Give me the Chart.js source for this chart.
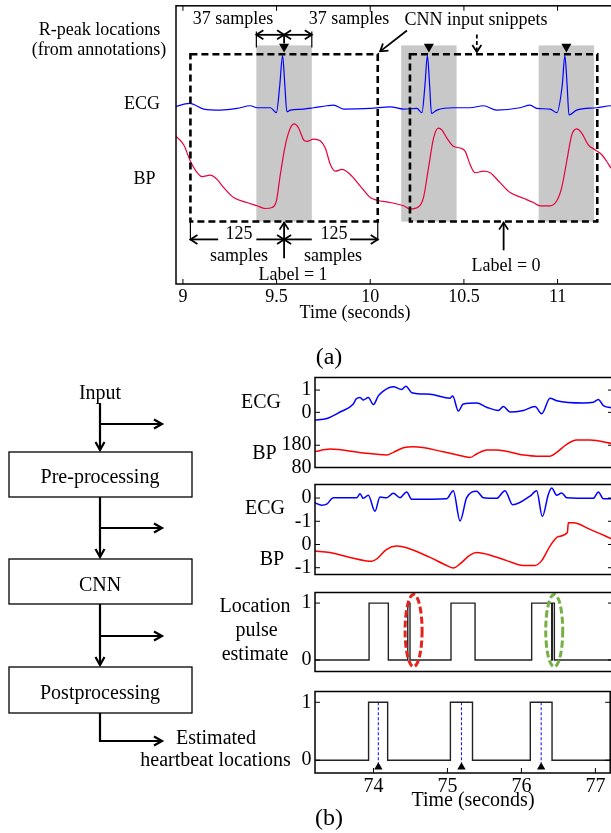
<!DOCTYPE html>
<html><head><meta charset="utf-8">
<script src="https://cdn.jsdelivr.net/npm/chart.js@4.4.0/dist/chart.umd.min.js"></script>
<style>
html,body{margin:0;padding:0;width:611px;height:833px;overflow:hidden;background:#fff;}
.c{position:absolute;}
svg text{font-family:'Liberation Serif','Times New Roman',serif;fill:#000;}
</style></head><body>
<canvas id="ca" class="c" style="left:0;top:0" width="640" height="330"></canvas>
<canvas id="cb1" class="c" style="left:230px;top:362px" width="385" height="121"></canvas>
<canvas id="cb2" class="c" style="left:230px;top:469px" width="385" height="121"></canvas>
<canvas id="cb3" class="c" style="left:230px;top:577px" width="385" height="110"></canvas>
<canvas id="cb4" class="c" style="left:230px;top:676px" width="385" height="121"></canvas>
<svg class="c" style="left:0;top:0;pointer-events:none" width="611" height="833">
 <g stroke="#000" fill="none" stroke-width="1.3">
  <rect x="9" y="452" width="183" height="45"/>
  <rect x="9" y="559" width="183" height="45"/>
  <rect x="9" y="667" width="183" height="46"/>
 </g>
 <g stroke="#000" fill="none" stroke-width="2.2" stroke-linejoin="miter">
  <line x1="100" y1="403" x2="100" y2="450"/>
  <polyline points="95.5,442 100,450 104.5,442"/>
  <line x1="100" y1="424" x2="162" y2="424"/>
  <polyline points="154,419.5 162,424 154,428.5"/>
  <line x1="100" y1="497" x2="100" y2="557"/>
  <polyline points="95.5,549 100,557 104.5,549"/>
  <line x1="100" y1="528" x2="162" y2="528"/>
  <polyline points="154,523.5 162,528 154,532.5"/>
  <line x1="100" y1="604" x2="100" y2="665"/>
  <polyline points="95.5,657 100,665 104.5,657"/>
  <line x1="100" y1="636" x2="162" y2="636"/>
  <polyline points="154,631.5 162,636 154,640.5"/>
  <polyline points="100,713 100,741 162,741"/>
  <polyline points="154,736.5 162,741 154,745.5"/>
 </g>
 <g font-size="18" text-anchor="middle" dominant-baseline="central">
  <text x="233" y="17.5">37 samples</text>
  <text x="349" y="17.5">37 samples</text>
  <text x="476" y="19">CNN input snippets</text>
  <text x="239" y="232.5">125</text>
  <text x="334" y="232.5">125</text>
  <text x="239" y="254.5">samples</text>
  <text x="333" y="254.5">samples</text>
  <text x="293" y="273.5">Label = 1</text>
  <text x="506" y="265">Label = 0</text>
  <text x="99.5" y="29">R-peak locations</text>
  <text x="99" y="49">(from annotations)</text>
  <text x="142" y="103">ECG</text>
  <text x="144.5" y="177.5">BP</text>
  <text x="355" y="311.5">Time (seconds)</text>
 </g>
 <g font-size="24" text-anchor="middle" dominant-baseline="central">
  <text x="329" y="356">(a)</text>
  <text x="329" y="817">(b)</text>
 </g>
 <g font-size="20" text-anchor="middle" dominant-baseline="central">
  <text x="100" y="392">Input</text>
  <text x="100" y="475.5">Pre-processing</text>
  <text x="100" y="583.5">CNN</text>
  <text x="100" y="692">Postprocessing</text>
  <text x="216" y="736.5">Estimated</text>
  <text x="215.5" y="758.5">heartbeat locations</text>
  <text x="261" y="401">ECG</text>
  <text x="264.5" y="452">BP</text>
  <text x="265" y="507">ECG</text>
  <text x="272" y="558">BP</text>
  <text x="255" y="604.5">Location</text>
  <text x="256.5" y="629">pulse</text>
  <text x="255" y="653">estimate</text>
  <text x="473" y="799">Time (seconds)</text>
 </g>
</svg>
<script>
// ---------------- Panel (a) data ----------------
const aEcgT = [8.95,9.036,9.111,9.2,9.289,9.36,9.396,9.467,9.499,9.517,9.532,9.544,9.555,9.573,9.644,9.698,9.769,9.804,9.858,10.0,10.107,10.178,10.249,10.276,10.292,10.305,10.317,10.327,10.356,10.444,10.533,10.604,10.676,10.8,10.853,10.889,10.96,10.996,11.025,11.039,11.051,11.061,11.102,11.209,11.285,11.36];
const aEcgV = [0.03,0.099,-0.006,-0.025,0.006,0.056,0.019,0.019,-0.074,0.44,0.994,0.44,-0.056,-0.025,-0.006,0.019,0.056,0.068,-0.006,0.006,0.037,-0.006,0.006,-0.074,0.44,0.994,0.44,-0.086,-0.025,0.019,0.019,0.056,-0.025,0.019,0.068,0.006,-0.006,-0.074,0.44,0.994,0.44,-0.117,-0.025,0.019,0.056,0.06];
const aBpT = [8.95,8.965,9.004,9.04,9.076,9.102,9.147,9.182,9.218,9.271,9.342,9.396,9.44,9.476,9.499,9.52,9.547,9.573,9.594,9.618,9.644,9.662,9.698,9.733,9.76,9.787,9.813,9.849,9.893,9.947,10.0,10.036,10.107,10.178,10.213,10.258,10.284,10.311,10.338,10.364,10.382,10.409,10.444,10.48,10.507,10.533,10.56,10.604,10.64,10.693,10.747,10.818,10.871,10.907,10.96,10.996,11.022,11.049,11.076,11.102,11.129,11.164,11.2,11.236,11.262,11.285,11.36];
const aBpV = [113,110.9,105.1,93.5,85.4,82.6,83.7,80.7,74.9,67.9,64.4,62.1,60.2,60.9,65.6,84.2,105.1,116.8,119.8,116.8,108.6,107.5,109.1,107.9,102.8,91.2,86.5,87.7,84.2,76.0,67.9,66.0,64.4,62.1,59.8,61.4,67.9,88.8,109.8,116.8,115.6,109.8,104.0,102.8,100.5,91.2,85.4,86.5,85.4,78.4,71.4,67.4,64.4,62.1,62.1,65.6,74.9,93.5,112.1,116.3,113.3,105.1,101.6,98.1,93.5,88.8,80];
const aTicks = [9, 9.5, 10, 10.5, 11];
const aTickLabels = ['9', '9.5', '10', '10.5', '11'];
const rPeaks = [9.54, 10.313, 11.047];          // R-peak annotations (s)
const fs = 250;                                   // sampling rate (Hz)
const halfR = 37;                                 // samples each side of R-peak
const halfSnippet = 125;                          // samples each side of snippet centre
const snippetCenters = [9.54, 10.712];            // CNN input snippets (label 1, label 0)

// ---------------- Panel (b) data ----------------
const bTicks = [74, 75, 76, 77];
const bTickLabels = ['74', '75', '76', '77'];
const b1EcgT = [73.2,73.37,73.545,73.723,73.76,73.813,73.857,73.924,73.991,74.058,74.125,74.259,74.37,74.428,74.505,74.75,75.018,75.054,75.129,75.196,75.375,75.509,75.665,75.732,75.821,75.999,76.156,76.245,76.357,76.446,76.803,76.937,77.004,77.071,77.2];
const b1EcgV = [-0.35,-0.275,0.014,0.377,0.594,0.667,0.551,0.667,0.348,0.739,0.957,1.145,1.029,1.174,0.884,0.812,0.638,0.739,0.058,0.377,0.42,0.232,0.087,0.261,0.014,0.087,0.261,-0.058,0.638,0.522,0.42,0.449,0.58,0.304,0.2];
const b1BpT = [73.2,73.411,73.857,74.17,74.259,74.393,74.527,74.928,75.196,75.285,75.375,75.509,75.643,75.999,76.178,76.357,76.446,76.58,76.714,76.892,77.2];
const b1BpV = [151,162.6,145.2,136.5,148.1,168.3,172.7,150.9,130.7,124.9,140.9,158.3,158.3,136.5,130.7,130.7,148.1,184.3,203,203,187];
const b2EcgT = [73.2,73.3,73.367,73.456,73.768,73.813,73.857,73.924,74.013,74.08,74.17,74.259,74.348,74.437,74.505,74.973,75.062,75.152,75.241,75.375,75.464,75.643,75.754,75.857,76.089,76.178,76.254,76.334,76.379,76.446,76.513,76.58,76.937,77.004,77.071,77.2];
const b2EcgV = [-0.194,-0.306,-0.264,0.014,0.014,0.18,-0.014,0.125,-0.57,0.042,0.014,0.208,0.014,0.264,-0.056,-0.028,0.319,-0.986,0.014,0.292,0.014,-0.014,0.319,-0.292,0.083,0.319,-0.792,0.153,0.431,0.125,0.222,0.014,-0.014,0.264,-0.028,-0.028];
const b2BpT = [73.2,73.411,73.679,73.969,74.036,74.17,74.304,74.437,74.75,74.973,75.062,75.152,75.285,75.375,75.509,75.777,75.999,76.156,76.245,76.357,76.468,76.589,76.602,76.669,76.892,77.2];
const b2BpV = [-0.278,-0.347,-0.556,-0.722,-0.625,-0.208,-0.069,-0.139,-0.556,-0.903,-1.014,-0.833,-0.458,-0.347,-0.417,-0.694,-0.903,-0.903,-0.694,-0.069,0.347,0.514,0.931,0.931,0.653,0.22];
const b3Pulses = [[73.934,74.192],[74.452,74.482],[75.031,75.353],[76.111,76.379],[76.387,76.415]];
const b4Pulses = [[73.934,74.192],[75.04,75.339],[76.12,76.414]];
const beatEstimates = [74.066, 75.19, 76.267];
const beatAnnotations = [74.066, 75.19, 76.267];
const circledFalse = 74.53;   // spurious narrow pulse (red)
const circledMerged = 76.413; // merged narrow pulse (green)

// ---------------- helpers ----------------
const FONT = "'Liberation Serif','Times New Roman',serif";
const zip = (t, v) => t.map((x, i) => ({x, y: v[i]}));
function pulsePoints(pulses, x0, x1) {
  const p = [{x: x0, y: 0}];
  pulses.forEach(([r, f]) => { p.push({x: r, y: 0}, {x: r, y: 1}, {x: f, y: 1}, {x: f, y: 0}); });
  p.push({x: x1, y: 0});
  return p;
}
function seg(ctx, x1, y1, x2, y2) { ctx.beginPath(); ctx.moveTo(x1, y1); ctx.lineTo(x2, y2); ctx.stroke(); }
function head(ctx, x1, y1, x2, y2, len, hw) {
  const a = Math.atan2(y2 - y1, x2 - x1);
  const bx = x2 - len * Math.cos(a), by = y2 - len * Math.sin(a);
  const nx = -Math.sin(a) * hw, ny = Math.cos(a) * hw;
  ctx.beginPath(); ctx.moveTo(bx + nx, by + ny); ctx.lineTo(x2, y2); ctx.lineTo(bx - nx, by - ny); ctx.stroke();
}
function arrow(ctx, x1, y1, x2, y2, both) {
  seg(ctx, x1, y1, x2, y2);
  head(ctx, x1, y1, x2, y2, 7, 4.5);
  if (both) head(ctx, x2, y2, x1, y1, 7, 4.5);
}
function framePlugin(cfg) {
  return {
    id: 'frame',
    afterDatasetsDraw(chart) {
      const {ctx, chartArea: {left, top, right, bottom}} = chart;
      const xs = chart.scales.x;
      ctx.save();
      ctx.strokeStyle = '#000'; ctx.lineWidth = 1.5; ctx.setLineDash([]);
      ctx.strokeRect(left, top, right - left, bottom - top);
      ctx.lineWidth = 1;
      (cfg.xTicks || []).forEach(v => {
        const px = xs.getPixelForValue(v);
        seg(ctx, px, bottom, px, bottom - 5);
        if (cfg.xTop) seg(ctx, px, top, px, top + 5);
      });
      (cfg.yTicks || []).forEach(([id, v]) => {
        const py = chart.scales[id].getPixelForValue(v);
        seg(ctx, left, py, left + 5, py); seg(ctx, right, py, right - 5, py);
      });
      ctx.fillStyle = '#000'; ctx.font = '20px ' + FONT; ctx.textAlign = 'right'; ctx.textBaseline = 'middle';
      (cfg.extraLabels || []).forEach(([id, v, s]) => {
        ctx.fillText(s, left - 3.5, chart.scales[id].getPixelForValue(v));
      });
      ctx.restore();
    }
  };
}
function tickSetter(vals) { return s => { s.ticks = vals.map(v => ({value: v})); }; }
function baseOpts(padding, scales) {
  return {
    responsive: false, animation: false, devicePixelRatio: 1,
    plugins: {legend: {display: false}, tooltip: {enabled: false}},
    elements: {point: {radius: 0}},
    layout: {padding},
    scales
  };
}
function lineDs(data, color, yAxisID, width, extra) {
  return Object.assign({data, borderColor: color, borderWidth: width, yAxisID, pointRadius: 0,
    fill: false, cubicInterpolationMode: 'monotone', tension: 0.4}, extra || {});
}

// ---------------- Panel (a) ----------------
const aX0 = 8.963, aX1 = 11.36;
const aAnnot = {
  id: 'aAnnot',
  beforeDatasetsDraw(chart) {
    const {ctx} = chart, x = chart.scales.x, y = chart.scales.yE;
    ctx.save(); ctx.fillStyle = '#c8c8c8';
    rPeaks.forEach(p => {
      const l = x.getPixelForValue(p - halfR / fs), r = x.getPixelForValue(p + halfR / fs);
      const t = y.getPixelForValue(1.185), b = y.getPixelForValue(-2.11);
      ctx.fillRect(l, t, r - l, b - t);
    });
    ctx.restore();
  },
  afterDatasetsDraw(chart) {
    const {ctx} = chart, x = chart.scales.x, y = chart.scales.yE;
    const X = v => x.getPixelForValue(v), Y = v => y.getPixelForValue(v);
    ctx.save(); ctx.strokeStyle = '#000'; ctx.lineJoin = 'miter';
    // dashed snippet boxes
    ctx.lineWidth = 2.6; ctx.setLineDash([7, 4]);
    snippetCenters.forEach(c => {
      const l = X(c - halfSnippet / fs), r = X(c + halfSnippet / fs);
      ctx.strokeRect(l, Y(1.02), r - l, Y(-2.11) - Y(1.02));
    });
    ctx.setLineDash([]); ctx.lineWidth = 1.8;
    // 37-sample arrows
    const p0 = rPeaks[0];
    const gl = X(p0 - halfR / fs), gr = X(p0 + halfR / fs), pc = X(p0);
    const ya = Y(1.383);
    arrow(ctx, gl, ya, pc, ya, true); arrow(ctx, pc, ya, gr, ya, true);
    ctx.lineWidth = 1.2;
    seg(ctx, gl, Y(1.444), gl, Y(1.148)); seg(ctx, gr, Y(1.444), gr, Y(1.148));
    ctx.lineWidth = 1.8;
    seg(ctx, pc, ya, pc, Y(1.222));
    // 125-sample arrows
    const c0 = snippetCenters[0];
    const bl = X(c0 - halfSnippet / fs), br = X(c0 + halfSnippet / fs), bc = X(c0);
    const yb = Y(-2.444), gap = halfR / fs;
    arrow(ctx, X(c0 - halfSnippet / fs + gap), yb, bl, yb);
    arrow(ctx, X(c0 - gap), yb, bc, yb);
    arrow(ctx, X(c0 + gap), yb, bc, yb);
    arrow(ctx, X(c0 + halfSnippet / fs - gap), yb, br, yb);
    ctx.lineWidth = 1.2;
    seg(ctx, bl, Y(-2.11), bl, Y(-2.463)); seg(ctx, br, Y(-2.11), br, Y(-2.463));
    ctx.lineWidth = 1.8;
    // label arrows
    arrow(ctx, bc, Y(-2.796), bc, Y(-2.13));
    arrow(ctx, X(snippetCenters[1]), Y(-2.648), X(snippetCenters[1]), Y(-2.13));
    // CNN input snippets pointers
    arrow(ctx, X(10.196), Y(1.463), X(10.053), Y(1.074));
    ctx.setLineDash([4, 2.5]);
    seg(ctx, X(10.569), Y(1.389), X(10.569), Y(1.06));
    ctx.setLineDash([]);
    head(ctx, X(10.569), Y(1.389), X(10.569), Y(1.06), 7, 4.5);
    ctx.restore();
  }
};
new Chart(document.getElementById('ca'), {
  type: 'line',
  data: {datasets: [
    lineDs(zip(aEcgT, aEcgV), '#0000ff', 'yE', 1.2),
    lineDs(zip(aBpT, aBpV), '#e6003c', 'yB', 1.2),
    {type: 'scatter', data: rPeaks.map(p => ({x: p, y: 1.163})), yAxisID: 'yE', pointStyle: 'triangle',
      rotation: 180, pointRadius: 5.8, pointBackgroundColor: '#000', pointBorderColor: '#000', pointBorderWidth: 0, showLine: false}
  ]},
  options: baseOpts({left: 176, top: 3, right: 15, bottom: 0}, {
    x: {type: 'linear', min: aX0, max: aX1, afterBuildTicks: tickSetter(aTicks), afterFit: s => { s.height = 46; },
      grid: {display: false, drawTicks: false}, border: {display: false},
      ticks: {padding: 2, color: '#000', font: {family: FONT, size: 18}, autoSkip: false, maxRotation: 0,
        callback: (v, i) => aTickLabels[i]}},
    yE: {type: 'linear', display: false, min: -3.278, max: 1.926},
    yB: {type: 'linear', display: false, min: 6.95, max: 203.1}
  }),
  plugins: [aAnnot, framePlugin({xTicks: aTicks, xTop: true})]
});

// ---------------- Panel (b) ----------------
const bX0 = 73.21, bX1 = 77.2;
function bX(show) {
  return {type: 'linear', min: bX0, max: bX1, display: show, afterBuildTicks: tickSetter(bTicks),
    afterFit: s => { s.height = show ? 24 : 0; },
    grid: {display: false, drawTicks: false}, border: {display: false},
    ticks: {padding: 1.5, color: '#000', font: {family: FONT, size: 20}, autoSkip: false, maxRotation: 0,
      callback: (v, i) => bTickLabels[i]}};
}
function bY(min, max, ticks, labels) {
  return {type: 'linear', position: 'left', min, max, afterBuildTicks: tickSetter(ticks), afterFit: s => { s.width = 85; },
    grid: {display: false, drawTicks: false}, border: {display: false},
    ticks: {padding: 3.5, color: '#000', font: {family: FONT, size: 20}, autoSkip: false,
      callback: (v, i) => labels[i]}};
}
const bPad = {left: 0, top: 14, right: 2, bottom: 14};

new Chart(document.getElementById('cb1'), {
  type: 'line',
  data: {datasets: [lineDs(zip(b1EcgT, b1EcgV), '#0000ff', 'yE', 1.5), lineDs(zip(b1BpT, b1BpV), '#ff0000', 'yB', 1.5)]},
  options: baseOpts(bPad, {x: bX(false), yE: bY(-2.478, 1.565, [0, 1], ['0', '1']),
    yB: {type: 'linear', display: false, min: 80, max: 484.3}}),
  plugins: [framePlugin({yTicks: [['yE', 0], ['yE', 1], ['yB', 80], ['yB', 180]],
    extraLabels: [['yB', 80, '80'], ['yB', 180, '180']]})]
});
new Chart(document.getElementById('cb2'), {
  type: 'line',
  data: {datasets: [lineDs(zip(b2EcgT, b2EcgV), '#0000ff', 'yE', 1.5), lineDs(zip(b2BpT, b2BpV), '#ff0000', 'yB', 1.5)]},
  options: baseOpts(bPad, {x: bX(false), yE: bY(-3.292, 0.583, [-1, 0], ['-1', '0']),
    yB: {type: 'linear', display: false, min: -1.292, max: 2.583}}),
  plugins: [framePlugin({yTicks: [['yE', 0], ['yE', -1], ['yB', 0], ['yB', -1]],
    extraLabels: [['yB', 0, '0'], ['yB', -1, '-1']]})]
});
const ellipses = {
  id: 'ellipses',
  afterDatasetsDraw(chart) {
    const {ctx} = chart, x = chart.scales.x, y = chart.scales.yE;
    ctx.save(); ctx.lineWidth = 3; ctx.setLineDash([7, 3]);
    const cy = y.getPixelForValue(0.517), ry = Math.abs(y.getPixelForValue(0.517 + 0.636) - cy);
    [[circledFalse, '#e5231b'], [circledMerged, '#76b043']].forEach(([t, col]) => {
      ctx.strokeStyle = col; ctx.beginPath();
      ctx.ellipse(x.getPixelForValue(t), cy, 8.5, ry, 0, 0, Math.PI * 2); ctx.stroke();
    });
    ctx.restore();
  }
};
new Chart(document.getElementById('cb3'), {
  type: 'line',
  data: {datasets: [lineDs(pulsePoints(b3Pulses, bX0, bX1), '#222', 'yE', 1.4, {cubicInterpolationMode: 'default', tension: 0})]},
  options: baseOpts(bPad, {x: bX(false), yE: bY(-0.203, 1.186, [0, 1], ['0', '1'])}),
  plugins: [ellipses, framePlugin({yTicks: [['yE', 0], ['yE', 1]]})]
});
const estLines = [];
beatEstimates.forEach(t => { estLines.push({x: t, y: 1}, {x: t, y: -0.05}, {x: t, y: null}); });
new Chart(document.getElementById('cb4'), {
  type: 'line',
  data: {datasets: [
    lineDs(pulsePoints(b4Pulses, bX0, bX1), '#222', 'yE', 1.4, {cubicInterpolationMode: 'default', tension: 0}),
    lineDs(estLines, '#1a1aff', 'yE', 1.1, {cubicInterpolationMode: 'default', tension: 0, borderDash: [3, 2], spanGaps: false}),
    {type: 'scatter', data: beatAnnotations.map(t => ({x: t, y: -0.117})), yAxisID: 'yE', pointStyle: 'triangle',
      pointRadius: 4.8, pointBackgroundColor: '#000', pointBorderColor: '#000', pointBorderWidth: 0, showLine: false}
  ]},
  options: baseOpts({left: 0, top: 14, right: 2, bottom: 0}, {x: bX(true), yE: bY(-0.22, 1.186, [0, 1], ['0', '1'])}),
  plugins: [framePlugin({xTicks: bTicks, xTop: false, yTicks: [['yE', 0], ['yE', 1]]})]
});
</script>
</body></html>
